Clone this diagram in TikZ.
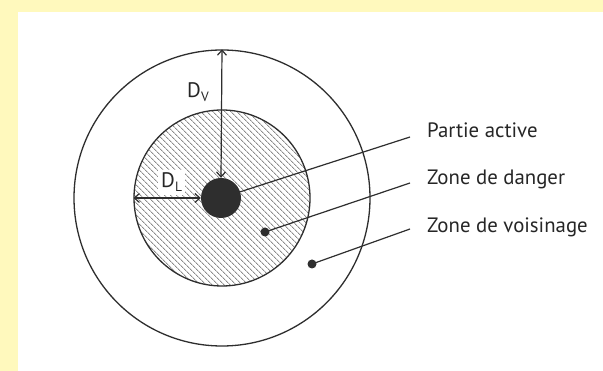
\documentclass[tikz,border=0pt]{standalone}
\usepackage{fontspec}
\setmainfont{PT Sans}
\usetikzlibrary{arrows.meta,positioning,patterns.meta}
\definecolor{zoneInk}{HTML}{2E2E2E}
\definecolor{zoneHatch}{HTML}{8C8C8C}
\definecolor{zoneFrame}{HTML}{FFF9BD}
\newcommand{\distLabel}[1]{D\kern0.3pt\raisebox{-0.35ex}{\fontsize{13.5}{14}\selectfont #1}}
\tikzset{
  zoneCircle/.style={
    circle,
    draw=zoneInk,
    line width=1.3pt,
    inner sep=0pt
  },
  hatchZone/.style={
    pattern={Lines[angle=-45,distance=4pt,line width=0.9pt]},
    pattern color=zoneHatch
  },
  markDot/.style={
    circle,
    fill=zoneInk,
    inner sep=0pt,
    minimum size=9pt
  },
  dimArrow/.style={
    {Straight Barb[length=5pt,width=9pt]}-{Straight Barb[length=5pt,width=9pt]},
    line width=1.2pt,
    draw=zoneInk
  },
  leader/.style={
    line width=1.2pt,
    draw=zoneInk
  },
  zoneLabel/.style={
    anchor=base west,
    inner sep=0pt,
    text=black!85,
    font=\fontsize{20.8}{24}\selectfont
  },
  distText/.style={
    anchor=base west,
    inner sep=0pt,
    text=black!85,
    font=\fontsize{21}{24}\selectfont
  }
}
\begin{document}
\begin{tikzpicture}[x=1pt,y=-1pt]
  % frame
  \fill[zoneFrame] (0,0) rectangle (603,371);
  \fill[white] (18,12) rectangle (603,371);
  \useasboundingbox (0,0) rectangle (603,371);

  % zones
  \node[zoneCircle,minimum size=296pt] (outer) at (222,198) {};
  \node[zoneCircle,hatchZone,minimum size=176pt] (danger) at (222,198) {};
  \node[circle,fill=zoneInk,inner sep=0pt,minimum size=40pt] (core) at (221,198) {};
  \node[markDot] (dangerDot) at (265,232) {};
  \node[markDot] (voisDot) at (312,264) {};

  % distances
  \draw[dimArrow] (outer.north) -- (core.north);
  \draw[dimArrow] (danger.west) -- (core.west);
  \node[distText] (dv) at (187,98) {\distLabel{V}};
  \node[distText,fill=white,inner sep=3pt] (dl) at (158,188) {\distLabel{L}};

  % labels
  \coordinate (activeEnd) at (410,137);
  \coordinate (dangerEnd) at (410,183);
  \coordinate (voisEnd) at (410,229);
  \node[zoneLabel] (active) at (427,138) {Partie active};
  \node[zoneLabel] (dangerTxt) at (427,185) {Zone de danger};
  \node[zoneLabel] (voisTxt) at (427,233) {Zone de voisinage};
  \draw[leader] (core) -- (activeEnd);
  \draw[leader] (dangerDot.center) -- (dangerEnd);
  \draw[leader] (voisDot.center) -- (voisEnd);
\end{tikzpicture}
\end{document}
